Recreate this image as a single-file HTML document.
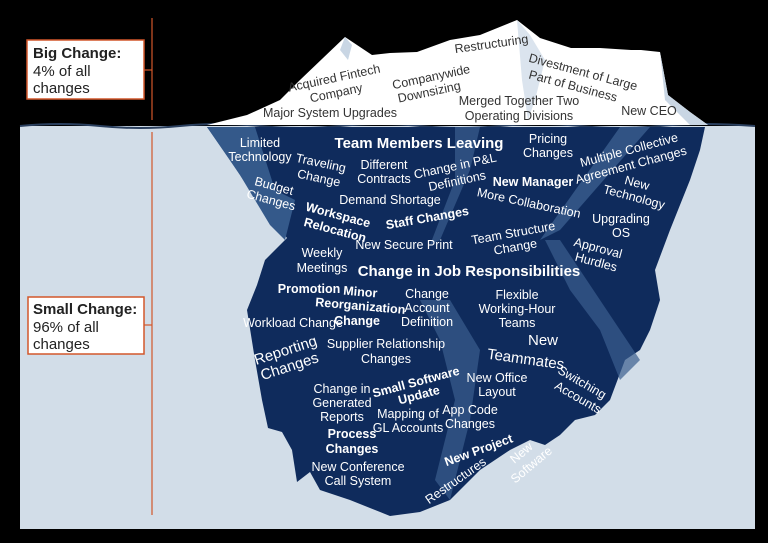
<!DOCTYPE html>
<html><head><meta charset="utf-8"><style>
html,body{margin:0;padding:0;background:#000;width:768px;height:543px;overflow:hidden}
svg{display:block}
text{font-family:"Liberation Sans",sans-serif;text-anchor:middle;font-size:12.5px}
.d{fill:#333}
.w{fill:#fff}
.b{font-weight:bold}
</style></head><body>
<svg width="768" height="543" viewBox="0 0 768 543">
<rect width="768" height="543" fill="#000"/>
<rect x="20" y="126" width="735" height="403" fill="#d2dde8"/>
<path d="M20 126 Q60 122 100 126 T180 126 T260 126 T340 126 T420 126 T500 126 T580 126 T660 126 T755 126" stroke="#2a3f5e" stroke-width="2" fill="none"/>
<!-- iceberg top -->
<polygon points="207,125 247,115 280,100 300,80 345,37 372,55 390,53 417,52 450,40 480,35 517,20 540,38 571,48 600,48 631,50 641,50 660,52 668,95 690,112 708,125" fill="#fff"/>
<polygon points="345,37 352,45 348,60 340,50" fill="#c9d6e4"/>
<polygon points="517,20 530,35 545,60 535,100 528,120 522,80" fill="#dbe4ee"/>
<polygon points="660,52 668,95 690,112 708,125 690,125 665,100" fill="#c9d6e4"/>
<!-- underwater -->
<polygon points="207,127 705,127 700,150 690,180 670,230 655,270 660,300 650,330 640,350 625,360 610,400 595,415 575,420 560,435 545,445 530,440 510,450 480,470 450,500 420,512 390,516 350,500 320,490 310,472 297,482 292,450 282,432 268,428 262,400 255,360 247,310 257,285 265,260 280,245 287,238 260,205 230,160" fill="#0f2b5c"/>
<polygon points="207,127 255,127 275,190 295,200 285,240 270,225 240,175" fill="#34598a"/>
<polygon points="620,127 650,127 560,230 540,240" fill="#3a5e8e" opacity=".8"/>
<polygon points="455,127 480,127 470,170 440,240 430,245 455,180" fill="#3a5e8e" opacity=".7"/>
<polygon points="545,240 560,240 640,360 620,380 600,330 570,290" fill="#3a5e8e" opacity=".7"/>
<polygon points="420,300 450,300 480,350 470,420 450,500 435,480 455,400 440,340" fill="#3a5e8e" opacity=".7"/>
<!-- orange lines and boxes -->
<g stroke="#d2572a" stroke-width="1.2" fill="none">
<line x1="152" y1="18" x2="152" y2="120"/>
<line x1="152" y1="132" x2="152" y2="515"/>
<line x1="144" y1="70" x2="152" y2="70"/>
<line x1="144" y1="325" x2="152" y2="325"/>
</g>
<rect x="27" y="40" width="117" height="59" fill="#fff" stroke="#d2572a" stroke-width="1.5"/>
<rect x="28" y="297" width="116" height="57" fill="#fff" stroke="#d2572a" stroke-width="1.5"/>
<g fill="#222">
<text x="33" y="58" style="text-anchor:start;font-size:15px;font-weight:bold">Big Change:</text>
<text x="33" y="76" style="text-anchor:start;font-size:15px">4% of all</text>
<text x="33" y="93" style="text-anchor:start;font-size:15px">changes</text>
<text x="33" y="314" style="text-anchor:start;font-size:15px;font-weight:bold">Small Change:</text>
<text x="33" y="332" style="text-anchor:start;font-size:15px">96% of all</text>
<text x="33" y="349" style="text-anchor:start;font-size:15px">changes</text>
</g>
<!-- top labels -->
<g class="d">
<text transform="translate(335,82) rotate(-12)">Acquired Fintech</text>
<text transform="translate(337,97) rotate(-12)">Company</text>
<text transform="translate(492,48) rotate(-8)">Restructuring</text>
<text transform="translate(432,81) rotate(-12)">Companywide</text>
<text transform="translate(430,96) rotate(-12)">Downsizing</text>
<text transform="translate(582,76) rotate(15)">Divestment of Large</text>
<text transform="translate(572,90) rotate(15)">Part of Business</text>
<text x="330" y="117">Major System Upgrades</text>
<text x="519" y="105">Merged Together Two</text>
<text x="519" y="120">Operating Divisions</text>
<text x="649" y="115">New CEO</text>
</g>
<!-- underwater labels -->
<g class="w">
<text x="260" y="147">Limited</text>
<text x="260" y="161">Technology</text>
<text x="419" y="148" class="b" style="font-size:15px">Team Members Leaving</text>
<text x="548" y="143">Pricing</text>
<text x="548" y="157">Changes</text>
<text transform="translate(630,154) rotate(-15)">Multiple Collective</text>
<text transform="translate(632,169) rotate(-15)">Agreement Changes</text>
<text transform="translate(320,167) rotate(12)">Traveling</text>
<text transform="translate(318,182) rotate(12)">Change</text>
<text x="384" y="169">Different</text>
<text x="384" y="183">Contracts</text>
<text transform="translate(456,170) rotate(-12)">Change in P&amp;L</text>
<text transform="translate(458,185) rotate(-12)">Definitions</text>
<text x="533" y="186" class="b">New Manager</text>
<text transform="translate(273,190) rotate(15)">Budget</text>
<text transform="translate(270,204) rotate(15)">Changes</text>
<text transform="translate(636,187) rotate(15)">New</text>
<text transform="translate(633,201) rotate(15)">Technology</text>
<text x="390" y="204">Demand Shortage</text>
<text transform="translate(528,207) rotate(12)">More Collaboration</text>
<text transform="translate(337,219) rotate(15)" class="b">Workspace</text>
<text transform="translate(334,234) rotate(15)" class="b">Relocation</text>
<text transform="translate(428,222) rotate(-10)" class="b">Staff Changes</text>
<text x="621" y="223">Upgrading</text>
<text x="621" y="237">OS</text>
<text transform="translate(514,237) rotate(-10)">Team Structure</text>
<text transform="translate(516,251) rotate(-10)">Change</text>
<text x="404" y="249">New Secure Print</text>
<text transform="translate(597,252) rotate(15)">Approval</text>
<text transform="translate(595,266) rotate(15)">Hurdles</text>
<text x="322" y="257">Weekly</text>
<text x="322" y="272">Meetings</text>
<text x="469" y="276" class="b" style="font-size:15px">Change in Job Responsibilities</text>
<text x="309" y="293" class="b">Promotion</text>
<text transform="translate(360,296) rotate(5)" class="b">Minor</text>
<text transform="translate(360,310) rotate(5)" class="b">Reorganization</text>
<text x="357" y="325" class="b">Change</text>
<text x="427" y="298">Change</text>
<text x="427" y="312">Account</text>
<text x="427" y="326">Definition</text>
<text x="517" y="299">Flexible</text>
<text x="517" y="313">Working-Hour</text>
<text x="517" y="327">Teams</text>
<text x="293" y="327">Workload Change</text>
<text transform="translate(287,355) rotate(-18)" style="font-size:15px">Reporting</text>
<text transform="translate(291,371) rotate(-18)" style="font-size:15px">Changes</text>
<text x="386" y="348">Supplier Relationship</text>
<text x="386" y="363">Changes</text>
<text x="543" y="345" style="font-size:15px">New</text>
<text transform="translate(525,364) rotate(8)" style="font-size:15px">Teammates</text>
<text x="342" y="393">Change in</text>
<text x="342" y="407">Generated</text>
<text x="342" y="421">Reports</text>
<text transform="translate(417,386) rotate(-15)" class="b">Small Software</text>
<text transform="translate(420,399) rotate(-15)" class="b">Update</text>
<text x="497" y="382">New Office</text>
<text x="497" y="396">Layout</text>
<text transform="translate(580,386) rotate(30)">Switching</text>
<text transform="translate(576,401) rotate(30)">Accounts</text>
<text x="408" y="418">Mapping of</text>
<text x="408" y="432">GL Accounts</text>
<text x="470" y="414">App Code</text>
<text x="470" y="428">Changes</text>
<text x="352" y="438" class="b">Process</text>
<text x="352" y="453" class="b">Changes</text>
<text transform="translate(480,454) rotate(-20)" class="b">New Project</text>
<text transform="translate(524,456) rotate(-40)">New</text>
<text transform="translate(534,468) rotate(-40)">Software</text>
<text x="358" y="471">New Conference</text>
<text x="358" y="485">Call System</text>
<text transform="translate(458,484) rotate(-35)">Restructures</text>
</g>
</svg>
</body></html>
